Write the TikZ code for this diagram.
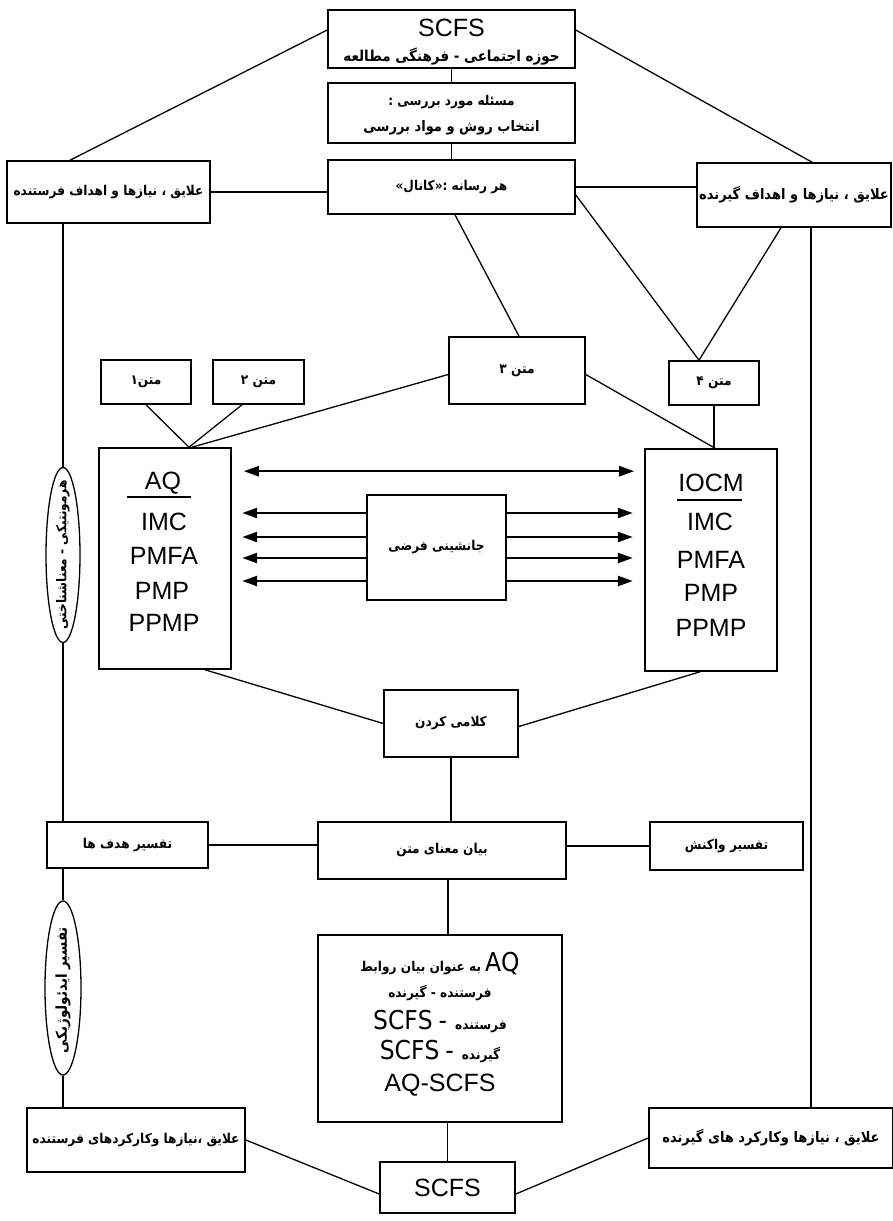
\documentclass[tikz,border=0pt]{standalone}
\usepackage{fontspec}
\setmainfont{Liberation Sans}
\newfontfamily\fa[Script=Arabic, FakeStretch=0.9, BoldFeatures={FakeStretch=0.9}]{DejaVu Sans}
\TeXXeTstate=1
\usetikzlibrary{arrows.meta,shapes.geometric}
\newcommand{\FA}[1]{{\fa\bfseries\beginR #1\endR}}
\begin{document}
\begin{tikzpicture}[x=1pt,y=-1pt,
  box/.style={draw, line width=1.6pt, inner sep=0pt, align=center},
  ln/.style={line width=1.3pt},
  arr/.style={line width=2.4pt, -{Triangle[length=15pt,width=10pt]}},
  arrb/.style={line width=2.4pt, {Triangle[length=15pt,width=10pt]}-{Triangle[length=15pt,width=10pt]}},
  fa/.style={font=\fa\fontsize{13.5}{20}\selectfont, inner sep=0pt},
  lat/.style={font=\fontsize{25}{30}\selectfont, inner sep=0pt},
  ell/.style={draw, ellipse, line width=1.3pt, inner sep=0pt}]
\useasboundingbox (0,0) rectangle (893,1221);
\fill[white] (0,0) rectangle (893,1221);

% ---- top column
\node[box, minimum width=247, minimum height=58] (top) at (451.5,39) {};
\node[lat] (topA) at (451.5,28) {SCFS};
\node[fa, font=\fa\fontsize{15}{20}\selectfont] (topB) at (451.5,57) {\FA{حوزه اجتماعی - فرهنگی مطالعه}};

\node[box, minimum width=247, minimum height=60] (prob) at (451.5,113) {};
\node[fa] (probA) at (451.5,102) {\FA{مسئله مورد بررسی :}};
\node[fa, font=\fa\fontsize{14.5}{20}\selectfont] (probB) at (451.5,128) {\FA{انتخاب روش و مواد بررسی}};

\node[box, minimum width=247, minimum height=54, fa] (chan) at (451.5,187) {\raisebox{3pt}{\FA{هر رسانه :«کانال»}}};

\node[box, minimum width=203, minimum height=62, fa] (lsend) at (108.5,192) {\FA{علایق ، نیازها و اهداف فرستنده}};
\node[box, minimum width=194, minimum height=64, fa, font=\fa\fontsize{14.5}{20}\selectfont] (rrecv) at (794,195) {\FA{علایق ، نیازها و اهداف گیرنده}};

% ---- texts
\node[box, minimum width=90, minimum height=44, fa] (m1) at (146,382) {\FA{متن۱}};
\node[box, minimum width=91, minimum height=44, fa] (m2) at (258.5,382) {\FA{متن ۲}};
\node[box, minimum width=136, minimum height=67, fa] (m3) at (517,370.5) {\FA{متن ۳}};
\node[box, minimum width=90, minimum height=44, fa] (m4) at (714,383) {\FA{متن ۴}};

% ---- big boxes
\node[box, minimum width=132, minimum height=221] (L) at (165,558.5) {};
\node[lat] (LA) at (163,483) {AQ};
\draw[line width=1.3pt] (127,497) -- (191,497);
\node[lat] (LB) at (164,522) {IMC};
\node[lat] (LC) at (164,556) {PMFA};
\node[lat] (LD) at (162,591) {PMP};
\node[lat] (LE) at (164,623) {PPMP};

\node[box, minimum width=132, minimum height=222] (R) at (711,560) {};
\node[lat] (RA) at (711,483) {IOCM};
\draw[line width=1.3pt] (677,500) -- (742,500);
\node[lat] (RB) at (710,522) {IMC};
\node[lat] (RC) at (711,560) {PMFA};
\node[lat] (RD) at (711,593) {PMP};
\node[lat] (RE) at (711,628) {PPMP};

\node[box, minimum width=139, minimum height=105, fa] (sub) at (436.5,547.5) {\FA{جانشینی فرضی}};

\node[box, minimum width=134, minimum height=67, fa] (verb) at (451,723.5) {\FA{کلامی کردن}};
\node[box, minimum width=248, minimum height=57, fa] (mean) at (442,850.5) {\FA{بیان معنای متن}};
\node[box, minimum width=161, minimum height=46, fa] (goals) at (127.5,845) {\FA{تفسیر هدف ها}};
\node[box, minimum width=153, minimum height=48, fa] (react) at (726.5,846) {\FA{تفسیر واکنش}};

\node[box, minimum width=244, minimum height=187] (aq) at (440,1028.5) {};
\node[fa] (aqA) at (440,964) {\FA{به عنوان بیان روابط}\hspace{4pt}{\fontsize{26}{30}\selectfont AQ}};
\node[fa] (aqB) at (440,993) {\FA{فرستنده - گیرنده}};
\node[fa] (aqC) at (440,1021) {{\fontsize{26}{30}\selectfont SCFS\hspace{6pt}-}\hspace{8pt}\FA{فرستنده}};
\node[fa] (aqD) at (440,1051) {{\fontsize{26}{30}\selectfont SCFS\hspace{6pt}-}\hspace{8pt}\FA{گیرنده}};
\node[lat] (aqE) at (440,1085) {AQ-SCFS};

\node[box, minimum width=218, minimum height=64, fa] (bl) at (136,1140) {\FA{علایق ،نیازها وکارکردهای فرستنده}};
\node[box, minimum width=244, minimum height=60, fa, font=\fa\fontsize{14.5}{20}\selectfont] (br) at (771,1138) {\FA{علایق ، نیازها وکارکرد های گیرنده}};
\node[box, minimum width=135, minimum height=51, lat] (scfs) at (447.5,1187.5) {SCFS};

% ---- ellipses
\node[ell, minimum width=34, minimum height=175] (e1) at (63,555) {};
\node[fa, rotate=90, font=\fa\fontsize{13.5}{14}\selectfont] (e1t) at (63,555) {\FA{هرمونتیکی - معناشناختی}};
\node[ell, minimum width=36, minimum height=174] (e2) at (63,988) {};
\node[fa, rotate=90, font=\fa\fontsize{15}{16}\selectfont] (e2t) at (63,990) {\FA{تفسیر ایدئولوژیکی}};

% ---- connectors
\draw[ln] (top.south) -- (prob.north);
\draw[ln] (prob.south) -- (chan.north);
\draw[ln] ([yshift=9]top.west) -- ([xshift=-38.5]lsend.north);
\draw[ln] ([yshift=9]top.east) -- ([xshift=18]rrecv.north);
\draw[ln] (lsend.east) -- (lsend.east -| chan.west);
\draw[ln] (chan.east) -- (chan.east -| rrecv.west);
\draw[ln] ([xshift=3.5]chan.south) -- ([xshift=2]m3.north);
\draw[ln] ([yshift=-8]chan.east) -- ([xshift=-15]m4.north);
\draw[ln] ([xshift=-13]rrecv.south) -- ([xshift=-15]m4.north);

\draw[ln] (lsend.south -| e1.north) -- (e1.north);
\draw[ln] (e1.south) -- (goals.north -| e1.south);
\draw[ln] (goals.south -| e2.north) -- (e2.north);
\draw[ln] (e2.south) -- (bl.north -| e2.south);
\coordinate (rv) at ([xshift=17]rrecv.south);
\draw[ln] (rv) -- (rv |- br.north);

\draw[ln] (m1.south) -- ([xshift=24]L.north);
\draw[ln] ([xshift=-16.5]m2.south) -- ([xshift=24]L.north);
\draw[ln] ([yshift=-4]m3.west) -- ([xshift=27]L.north);
\draw[ln] ([yshift=-4]m3.east) -- ([xshift=4]R.north);
\draw[ln] (m4.south) -- (m4.south |- R.north);

\draw[arrb] ([xshift=12,yshift=-24]L.north east) -- ([xshift=-10,yshift=-23]R.north west);
\foreach \s in {34.5,10.5,-10.5,-33.5}{
  \draw[arr] ([yshift=\s]sub.west) -- ++(-124,0);
  \draw[arr] ([yshift=\s]sub.east) -- ++(126,0);
}

\draw[ln] ([xshift=40]L.south) -- (verb.west);
\draw[ln] ([xshift=-11]R.south) -- ([yshift=-3]verb.east);
\draw[ln] (verb.south) -- (verb.south |- mean.north);
\draw[ln] (goals.east) -- (goals.east -| mean.west);
\draw[ln] (react.west) -- (react.west -| mean.east);
\coordinate (mv) at ([xshift=6]mean.south);
\draw[ln] (mv) -- (mv |- aq.north);
\draw[ln] (scfs.north |- aq.south) -- (scfs.north);
\draw[ln] (bl.east) -- ([yshift=-6.5]scfs.west);
\draw[ln] (br.west) -- ([yshift=-6.5]scfs.east);
\end{tikzpicture}
\end{document}
